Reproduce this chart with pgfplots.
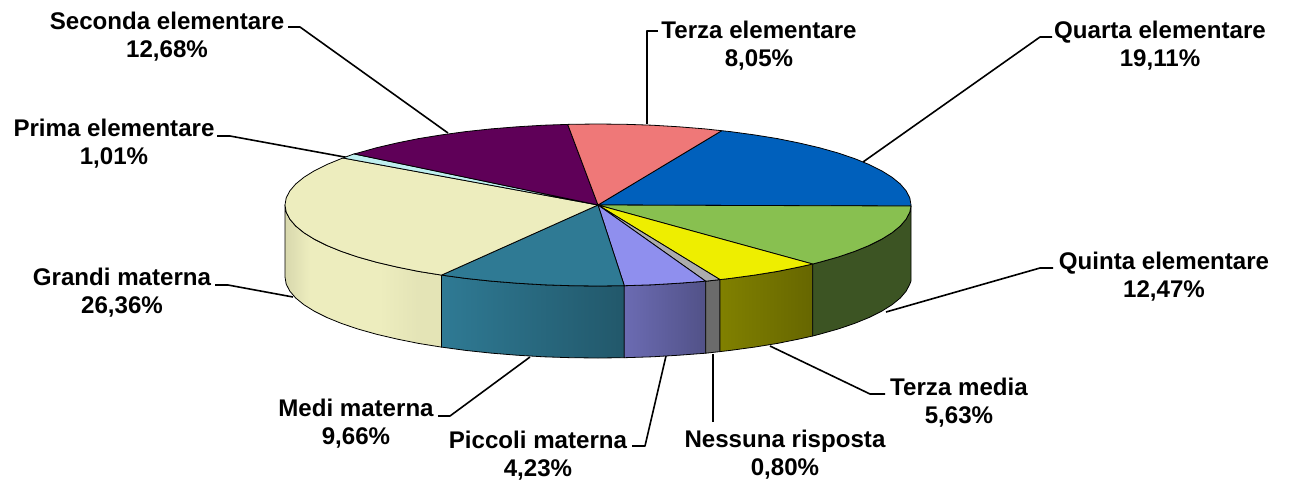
\documentclass[border=0pt]{standalone}
\usepackage{pgfplots}
\pgfplotsset{compat=1.18}
\usepackage{fontspec}
\setmainfont{Liberation Sans}

\definecolor{cBlue}{RGB}{0,96,188}
\definecolor{cGreen}{RGB}{136,192,80}
\definecolor{cYellow}{RGB}{238,238,0}
\definecolor{cGrey}{RGB}{172,172,172}
\definecolor{cPeri}{RGB}{143,143,238}
\definecolor{cTeal}{RGB}{47,122,148}
\definecolor{cCream}{RGB}{237,237,190}
\definecolor{cCyan}{RGB}{191,239,239}
\definecolor{cPurple}{RGB}{95,0,88}
\definecolor{cSalmon}{RGB}{239,120,120}

\pgfdeclarehorizontalshading{creamside}{100bp}{
  color(0bp)=(cCream!91!black); color(25bp)=(cCream!91!black); color(33bp)=(cCream);
  color(55bp)=(cCream); color(68bp)=(cCream!96!black); color(75bp)=(cCream!96!black); color(100bp)=(cCream!96!black)}

\newcommand{\lab}[4]{\node[align=center,inner sep=0pt,font=\fontsize{24.1bp}{28bp}\selectfont\bfseries] at (axis cs:#1,#2) {#3\\#4};}

\begin{document}
\begin{tikzpicture}
\path[use as bounding box] (0,0) rectangle (1289bp,480bp);
\begin{axis}[
  at={(0,0)}, anchor=south west,
  width=1289bp, height=480bp, scale only axis,
  xmin=0, xmax=1289, ymin=0, ymax=480, y dir=reverse,
  hide axis, clip=false,
  every axis plot/.append style={line width=0.8bp, line join=round},
  leader/.style={black, line width=1.6bp, mark=none},
]
% leader lines
\addplot[leader] coordinates {(288,27) (300,27) (448,133)};
\addplot[leader] coordinates {(658,31) (647,31) (647,124)};
\addplot[leader] coordinates {(1052,37) (1040,37) (863,162)};
\addplot[leader] coordinates {(1053,268) (1040,268) (886,312)};
\addplot[leader] coordinates {(885,394) (870,394) (770,346)};
\addplot[leader] coordinates {(713,422) (713,354)};
\addplot[leader] coordinates {(632,446) (645,446) (666,356)};
\addplot[leader] coordinates {(438,416) (450,416) (530,357)};
\addplot[leader] coordinates {(215,285) (228,285) (293,297)};
\addplot[leader] coordinates {(217,136) (230,136) (350,158)};

% side of the disc
\addplot[draw=black, shading=creamside] coordinates {
  (441.5,275.1) (418.5,271.4) (396.8,267) (376.7,262.3) (358.2,257.1) (341.6,251.5) (326.9,245.5)
  (314.3,239.2) (303.9,232.7) (295.7,226) (289.8,219.1) (286.2,212.1) (285,205) (285,277)
  (286.2,284.1) (289.8,291.1) (295.7,298) (303.9,304.7) (314.3,311.2) (326.9,317.5) (341.6,323.5)
  (358.2,329.1) (376.7,334.3) (396.8,339) (418.5,343.4) (441.5,347.1) (441.5,275.1)};
\addplot[draw=black, left color=cTeal, right color=cTeal!72!black] coordinates {
  (624.3,285.7) (598,286) (570.7,285.7) (543.7,284.8) (517,283.2) (491,281.1) (465.7,278.4) (441.5,275.1)
  (441.5,347.1) (465.7,350.4) (491,353.1) (517,355.2) (543.7,356.8) (570.7,357.7) (598,358) (624.3,357.7)
  (624.3,285.7)};
\addplot[draw=black, left color=cPeri!75!black, right color=cPeri!57!black] coordinates {
  (705.7,281.2) (679,283.2) (652.3,284.8) (624.3,285.7) (624.3,357.7) (652.3,356.8) (679,355.2) (705.7,353.2)
  (705.7,281.2)};
\addplot[draw=black, fill=cGrey!62!black] coordinates {
  (720,279.6) (705.7,281.2) (705.7,353.2) (720,351.6) (720,279.6)};
\addplot[draw=black, left color=cYellow!54!black, right color=cYellow!43!black] coordinates {
  (812.7,264) (799.2,267) (777.5,271.4) (754.5,275.1) (730.3,278.4) (720,279.6)
  (720,351.6) (730.3,350.4) (754.5,347.1) (777.5,343.4) (799.2,339) (812.7,336) (812.7,264)};
\addplot[draw=black, fill=cGreen!44!black] coordinates {
  (911,206) (909.8,212.1) (906.2,219.1) (900.3,226) (892.1,232.7) (881.7,239.2) (869.1,245.5) (854.4,251.5)
  (837.8,257.1) (819.3,262.3) (812.7,264) (812.7,336) (819.3,334.3) (837.8,329.1) (854.4,323.5) (869.1,317.5)
  (881.7,311.2) (892.1,304.7) (900.3,298) (906.2,291.1) (909.8,284.1) (911,281) (911,206)};

% top of the disc
\addplot[draw=black, fill=cBlue] coordinates {
  (598,205) (721.7,130.7) (730.3,131.6) (754.5,134.9) (777.5,138.6) (799.2,143) (819.3,147.7) (837.8,152.9)
  (854.4,158.5) (869.1,164.5) (881.7,170.8) (892.1,177.3) (900.3,184) (906.2,190.9) (909.8,197.9) (911,205)
  (911,206) (598,205)};
\addplot[draw=black, fill=cGreen] coordinates {
  (598,205) (911,206) (909.8,212.1) (906.2,219.1) (900.3,226) (892.1,232.7) (881.7,239.2) (869.1,245.5)
  (854.4,251.5) (837.8,257.1) (819.3,262.3) (812.7,264) (598,205)};
\addplot[draw=black, fill=cYellow] coordinates {
  (598,205) (812.7,264) (799.2,267) (777.5,271.4) (754.5,275.1) (730.3,278.4) (720,279.6) (598,205)};
\addplot[draw=black, fill=cGrey] coordinates {(598,205) (720,279.6) (705.7,281.2) (598,205)};
\addplot[draw=black, fill=cPeri] coordinates {
  (598,205) (705.7,281.2) (679,283.2) (652.3,284.8) (624.3,285.7) (598,205)};
\addplot[draw=black, fill=cTeal] coordinates {
  (598,205) (624.3,285.7) (598,286) (570.7,285.7) (543.7,284.8) (517,283.2) (491,281.1) (465.7,278.4)
  (441.5,275.1) (598,205)};
\addplot[draw=black, fill=cCream] coordinates {
  (598,205) (441.5,275.1) (418.5,271.4) (396.8,267) (376.7,262.3) (358.2,257.1) (341.6,251.5) (326.9,245.5)
  (314.3,239.2) (303.9,232.7) (295.7,226) (289.8,219.1) (286.2,212.1) (285,205) (286.2,197.9) (289.8,190.9)
  (295.7,184) (303.9,177.3) (314.3,170.8) (326.9,164.5) (341.6,158.5) (343,158) (598,205)};
\addplot[draw=black, fill=cCyan] coordinates {(598,205) (343,158) (354,153.9) (598,205)};
\addplot[draw=black, fill=cPurple] coordinates {
  (598,205) (354,153.9) (358.2,152.9) (376.7,147.7) (396.8,143) (418.5,138.6) (441.5,134.9) (465.7,131.6)
  (491,128.9) (517,126.8) (543.7,125.2) (567.7,124.4) (598,205)};
\addplot[draw=black, fill=cSalmon] coordinates {
  (598,205) (567.7,124.4) (570.7,124.3) (598,124) (625.3,124.3) (652.3,125.2) (679,126.8) (705,128.9)
  (721.7,130.7) (598,205)};

% labels
\lab{167}{37}{Seconda elementare}{12,68\%}
\lab{114}{144}{Prima elementare}{1,01\%}
\lab{759}{46}{Terza elementare}{8,05\%}
\lab{1160}{46}{Quarta elementare}{19,11\%}
\lab{1164}{277}{Quinta elementare}{12,47\%}
\lab{959}{403}{Terza media}{5,63\%}
\lab{785}{455}{Nessuna risposta}{0,80\%}
\lab{538}{456}{Piccoli materna}{4,23\%}
\lab{356}{424}{Medi materna}{9,66\%}
\lab{122}{293}{Grandi materna}{26,36\%}
\end{axis}
\end{tikzpicture}
\end{document}
